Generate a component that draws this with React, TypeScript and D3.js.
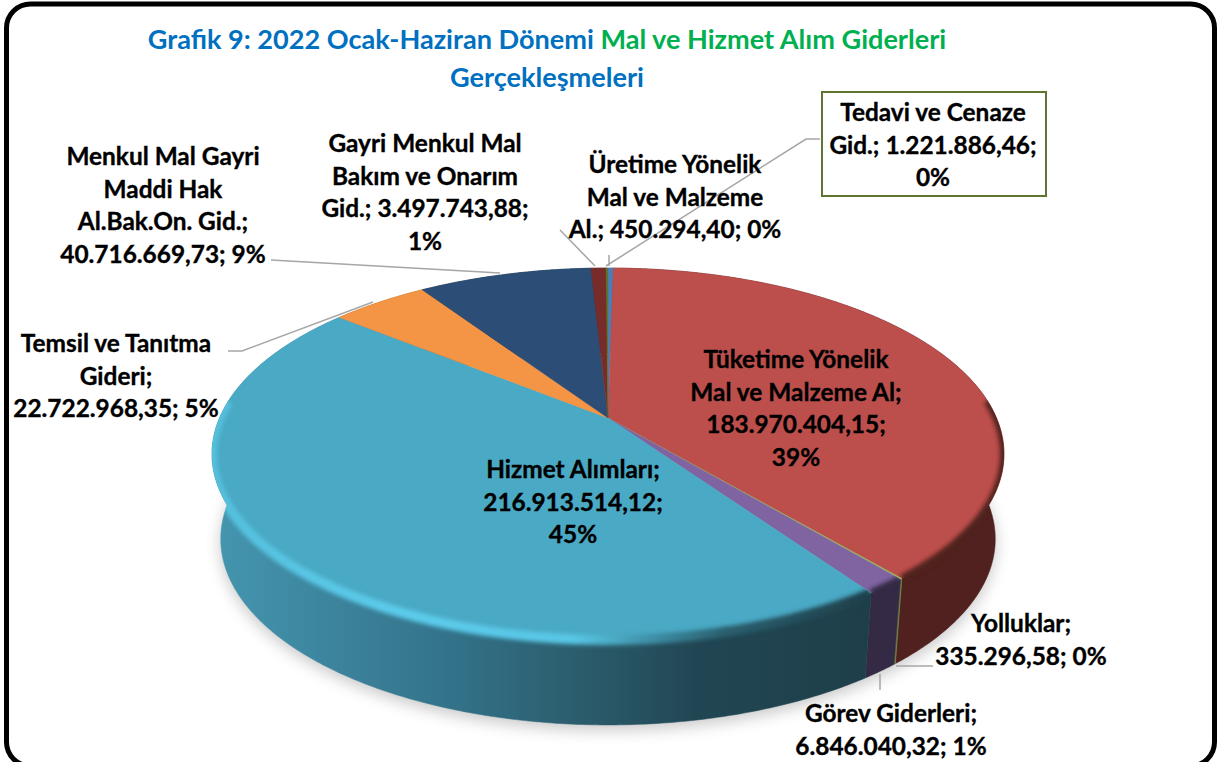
import React, { useEffect, useRef } from 'react';
import * as d3 from 'd3';

// Grafik 9 - 3D pie, perspective done by projecting the unit circle
const categories = [
  'Tedavi ve Cenaze Gid.',
  'Tüketime Yönelik Mal ve Malzeme Al',
  'Yolluklar',
  'Görev Giderleri',
  'Hizmet Alımları',
  'Temsil ve Tanıtma Gideri',
  'Menkul Mal Gayri Maddi Hak Al.Bak.On. Gid.',
  'Gayri Menkul Mal Bakım ve Onarım Gid.',
  'Üretime Yönelik Mal ve Malzeme Al.',
];
const values = [
  1221886.46, 183970404.15, 335296.58, 6846040.32, 216913514.12, 22722968.35, 40716669.73, 3497743.88, 450294.4,
];
const topColors = ['#4a7ebb', '#bc4f4c', '#9bbb59', '#8064a2', '#4aa9c4', '#f49445', '#2c4d75', '#772c2a', '#5f7530'];
const labelLines = [
  ['Tedavi ve Cenaze', 'Gid.; 1.221.886,46;', '0%'],
  ['Tüketime Yönelik', 'Mal ve Malzeme Al;', '183.970.404,15;', '39%'],
  ['Yolluklar;', '335.296,58; 0%'],
  ['Görev Giderleri;', '6.846.040,32; 1%'],
  ['Hizmet Alımları;', '216.913.514,12;', '45%'],
  ['Temsil ve Tanıtma', 'Gideri;', '22.722.968,35; 5%'],
  ['Menkul Mal Gayri', 'Maddi Hak', 'Al.Bak.On. Gid.;', '40.716.669,73; 9%'],
  ['Gayri Menkul Mal', 'Bakım ve Onarım', 'Gid.; 3.497.743,88;', '1%'],
  ['Üretime Yönelik', 'Mal ve Malzeme', 'Al.; 450.294,40; 0%'],
];
// centre x, first baseline y
const labelPos = [
  [933, 121], [796, 368], [1021, 632], [891, 722], [573, 478], [116, 352], [163, 165], [425, 152], [675, 173],
];
const leaders = [
  [[606, 266], [806, 139], [820, 139]],
  null,
  [[896, 666], [933, 666]],
  [[880, 674], [880, 690]],
  null,
  [[228, 351], [242, 351], [373, 302]],
  [[271, 260], [500, 273]],
  [[595, 266], [560, 230]],
  [[609, 266], [609, 255]],
];

const W = 1217;
const H = 762;
const apex = { x: 608, y: 418 };
const ax = 388.5; // horizontal scale of the projection
const by = 179; // vertical scale
const k = 0.1935; // perspective
const depth = 85;
const bottomScale = 0.978; // lower edge is a bit narrower than the top
const font = 'Lato, "Open Sans", sans-serif';

const project = (a: number, dy = 0): [number, number] => {
  const u = Math.sin(a);
  const v = Math.cos(a);
  const w = 1 + k * v;
  const s = dy ? bottomScale : 1;
  return [apex.x + (s * ax * u) / w, apex.y - (by * v) / w + dy];
};

// arc samples between two angles
const sample = (a0: number, a1: number) => {
  const n = Math.max(2, Math.ceil((a1 - a0) / 0.01));
  return d3.range(n + 1).map((i) => a0 + ((a1 - a0) * i) / n);
};

export default function App() {
  const svgRef = useRef<SVGSVGElement>(null);

  useEffect(() => {
    const svg = d3.select(svgRef.current);
    svg.selectAll('*').remove();
    const defs = svg.append('defs');

    const blur = (id: string, s: number) =>
      defs.append('filter').attr('id', id).attr('x', '-20%').attr('y', '-20%').attr('width', '140%').attr('height', '140%')
        .append('feGaussianBlur').attr('stdDeviation', s);
    blur('shadow', 8);
    blur('rim', 2);

    const slices = d3.pie<number>().sort(null).startAngle(0).endAngle(2 * Math.PI)(values);
    const line = d3.line();

    const g = svg.append('g');

    // drop shadow under the body
    const outline = sample(0, 2 * Math.PI);
    g.append('path')
      .attr('d', line(outline.map((a) => project(a, depth + 5))) + 'Z')
      .attr('fill', '#000').attr('opacity', 0.22).attr('filter', 'url(#shadow)');

    const hGrad = (id: string, stops: [number, string][]) => {
      const lg = defs.append('linearGradient').attr('id', id).attr('gradientUnits', 'userSpaceOnUse')
        .attr('x1', 212).attr('x2', 870).attr('y1', 0).attr('y2', 0);
      stops.forEach(([o, c]) => lg.append('stop').attr('offset', o).attr('stop-color', c));
    };
    // side gets darker towards the right
    hGrad('sideHizmet', [
      [0, '#4596b0'], [0.21, '#3b819a'], [0.36, '#33738a'], [0.58, '#2a5a69'], [0.74, '#214653'], [1, '#1e3f4a'],
    ]);
    // bevel of the big slice: bright on the left, goes into the side colour on the right
    hGrad('rimHizmet', [
      [0, '#54c0dd'], [0.3, '#5ccbeb'], [0.55, '#58c6e5'], [0.66, '#3f93aa'], [0.78, '#2a5f6e'], [1, '#1e3f4a'],
    ]);

    const sideColor = (i: number) => {
      if (i === 4) return 'url(#sideHizmet)';
      if (i === 1) return '#50211f';
      if (i === 3) return '#342a45';
      return d3.color(topColors[i])!.darker(1).formatHex();
    };
    const rimColor = (i: number) => (i === 4 ? 'url(#rimHizmet)' : sideColor(i));

    const sidePath = (a0: number, a1: number) => {
      const arcA = sample(a0, a1);
      const pts = [...arcA.map((a) => project(a)), ...arcA.slice().reverse().map((a) => project(a, depth))];
      return line(pts as [number, number][]) + 'Z';
    };

    // side wall
    slices.forEach((s, i) => {
      const d = sidePath(s.startAngle, s.endAngle);
      g.append('path').attr('d', d).attr('fill', sideColor(i)).attr('stroke', sideColor(i)).attr('stroke-width', 0.5);
    });

    // top surface, the rim only shows on the front half of the disc
    slices.forEach((s, i) => {
      const arcA = sample(s.startAngle, s.endAngle);
      const pts: [number, number][] = [[apex.x, apex.y], ...arcA.map((a) => project(a))];
      const d = line(pts) + 'Z';
      g.append('path').attr('d', d).attr('fill', topColors[i]).attr('stroke', topColors[i]).attr('stroke-width', 0.4);
      const front = arcA.filter((a) => Math.cos(a) < 0.1);
      if (front.length < 2 || s.endAngle - s.startAngle < 0.02) return;
      // bevel spills a little onto the wall, so clip to top + wall of this slice
      defs.append('clipPath').attr('id', `clip${i}`).append('path').attr('d', d + sidePath(s.startAngle, s.endAngle));
      g.append('g').attr('clip-path', `url(#clip${i})`)
        .append('path').attr('d', line(front.map((a) => project(a, 0))))
        .attr('fill', 'none').attr('stroke', rimColor(i))
        .attr('stroke-width', i === 4 ? 10 : 8).attr('filter', 'url(#rim)');
    });

    // leader lines
    leaders.forEach((l) => {
      if (!l) return;
      g.append('path').attr('d', line(l as [number, number][])).attr('fill', 'none')
        .attr('stroke', '#a6a6a6').attr('stroke-width', 1.5);
    });

    // box behind the Tedavi label
    g.append('rect').attr('x', 822).attr('y', 92).attr('width', 224).attr('height', 104)
      .attr('fill', '#fff').attr('stroke', '#5f7530').attr('stroke-width', 2);

    // data labels
    labelLines.forEach((lines, i) => {
      const t = g.append('text').attr('text-anchor', 'middle').attr('font-family', font)
        .attr('font-weight', 700).attr('font-size', 24.4).attr('fill', '#000')
        .attr('stroke', '#000').attr('stroke-width', 0.35);
      lines.forEach((txt, j) => {
        t.append('tspan').attr('x', labelPos[i][0]).attr('y', labelPos[i][1] + j * 32.5).text(txt);
      });
    });

    // title
    const title = g.append('text').attr('text-anchor', 'middle').attr('font-family', font)
      .attr('font-weight', 700).attr('font-size', 27.1);
    const first = title.append('tspan').attr('x', 547).attr('y', 49);
    first.append('tspan').attr('fill', '#0070c0').text('Grafik 9: 2022 Ocak-Haziran Dönemi ');
    first.append('tspan').attr('fill', '#00b050').text('Mal ve Hizmet Alım Giderleri');
    title.append('tspan').attr('x', 547).attr('y', 87).attr('fill', '#0070c0').text('Gerçekleşmeleri');

    // frame, bottom edge runs off the page
    g.append('rect').attr('x', 6.5).attr('y', 4).attr('width', 1208).attr('height', 762).attr('rx', 24)
      .attr('fill', 'none').attr('stroke', '#000').attr('stroke-width', 5);
  }, []);

  return (
    <svg ref={svgRef} width={W} height={H} style={{ position: 'absolute', left: 0, top: 0, background: '#fff' }} />
  );
}
